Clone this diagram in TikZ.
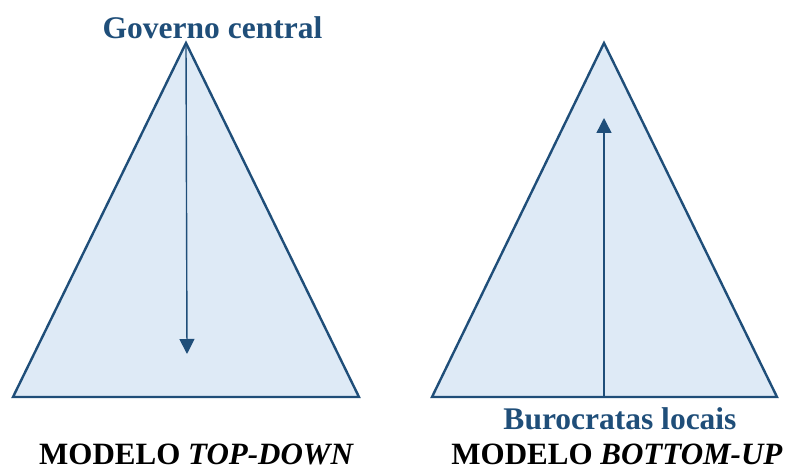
\documentclass[tikz,border=0pt]{standalone}
\usepackage{fontspec}
\setmainfont{Liberation Serif}
\usepackage{xcolor}
\usepackage{tikz}
\usetikzlibrary{arrows.meta}
\definecolor{azulEscuro}{HTML}{1F4E79}
\definecolor{azulClaro}{HTML}{DEEAF6}

\begin{document}
\begin{tikzpicture}[
    x=1pt, y=-1pt,
    piramide/.style={
        draw=azulEscuro,
        fill=azulClaro,
        line width=2.4pt,
        line join=miter,
    },
    fluxo/.style={-{Triangle[length=15pt, width=15pt]}, line width=1.4pt, color=azulEscuro},
    ator/.style={font=\fontsize{31.5}{36}\selectfont\bfseries, color=azulEscuro, anchor=base, inner sep=0pt},
    modelo/.style={font=\fontsize{31}{36}\selectfont\bfseries, color=black, anchor=base, inner sep=0pt, text depth=0pt},
]
\useasboundingbox (0,0) rectangle (795,470);

% piramide da esquerda
\coordinate (topoE)   at (186, 43);
\coordinate (baseEe)  at ( 13, 397);
\coordinate (baseEd)  at (359, 397);
\coordinate (fimE)    at (187, 354);
\draw[piramide] (topoE) -- (baseEd) -- (baseEe) -- cycle;

% piramide da direita
\coordinate (topoD)   at (604, 43);
\coordinate (baseDe)  at (432, 397);
\coordinate (baseDd)  at (777, 397);
\coordinate (inicioD) at (604, 397);
\coordinate (fimD)    at (604, 118);
\draw[piramide] (topoD) -- (baseDd) -- (baseDe) -- cycle;

\node[ator]   (governo)  at (212.5, 39)  {Governo central};
\node[ator]   (burocr)   at (620, 429)   {Burocratas locais};
\node[modelo] (topdown)  at (196.5, 464) {MODELO \textit{TOP-DOWN}};
\node[modelo] (bottomup) at (617, 464)   {MODELO \textit{BOTTOM-UP}};

\draw[fluxo] (topoE) -- (fimE);
\draw[fluxo] (inicioD) -- (fimD);

\end{tikzpicture}
\end{document}
